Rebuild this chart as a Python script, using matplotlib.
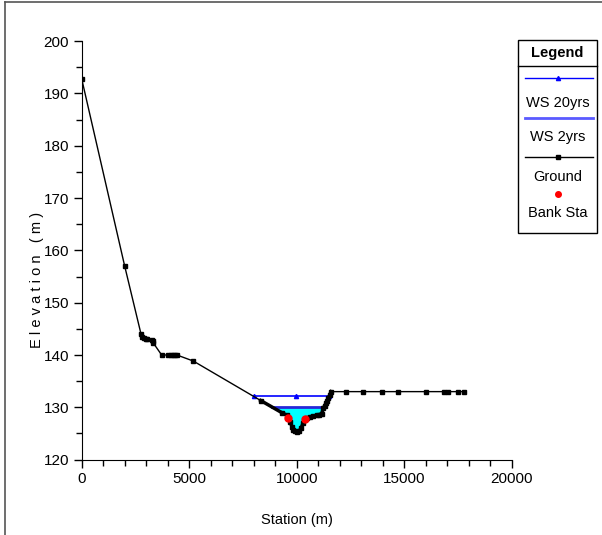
import numpy as np
import matplotlib

matplotlib.use("Agg")
import matplotlib.pyplot as plt
from matplotlib.lines import Line2D
from matplotlib.patches import Rectangle

plt.rcParams["font.family"] = ["Liberation Sans", "DejaVu Sans"]

# ---------------- Data ----------------

ground_x = [0, 2000, 2760, 2800, 2900, 2980, 3050, 3260, 3300, 3330, 3720,
            4030, 4150, 4250, 4350, 4430, 5190, 8325, 9300, 9535, 9610,
            9700, 9780, 9840, 9900, 10000, 10100, 10200, 10300, 10385, 10500,
            10620, 10750, 10930, 11050, 11160, 11240, 11300, 11360, 11420,
            11470, 11530, 11600, 12290, 13070, 13950, 14710, 16010, 16870,
            17050, 17490, 17780]
ground_y = [192.8, 157.0, 144.0, 143.5, 143.2, 143.1, 143.0, 142.9, 142.6,
            142.3, 140.0, 140.0, 140.0, 140.0, 140.0, 140.0, 138.85, 131.3,
            129.0, 128.5, 128.0, 127.2, 126.3, 125.7, 125.4, 125.3, 125.4,
            126.0, 127.0, 127.7, 128.0, 128.2, 128.3, 128.5, 128.6, 128.8,
            129.8, 130.3, 130.75, 131.2, 131.7, 132.3, 133.0, 133.0, 133.0,
            133.0, 133.0, 133.0, 133.0, 133.0, 133.0, 133.0]

ws20_x = [8000, 9970, 11500]
ws20_y = [132.2, 132.2, 132.2]

ws2_x = [8833, 11270]
ws2_level = 130.1

bank_x = [9610, 10385]
bank_y = [128.0, 127.7]

legend_labels = ["WS 20yrs", "WS 2yrs", "Ground", "Bank Sta"]

# ---------------- Figure ----------------

W, H = 602, 535


def fx(px):
    return px / W


def fy(py):
    return 1 - py / H


fig = plt.figure(figsize=(6.02, 5.35), dpi=100)
ax = fig.add_axes([0.1357, 0.1409, 0.7143, 0.7821])

gx = np.array(ground_x)
gy = np.array(ground_y)
chan = (gx >= 8000) & (gx <= 11600)
ax.fill_between(gx[chan], gy[chan], ws2_level, where=gy[chan] < ws2_level,
                interpolate=True, color="#00ffff", lw=0, zorder=1)
ax.plot(ws2_x, [ws2_level, ws2_level], color="#2828d8", lw=2.0, zorder=2)

ax.plot(ws20_x, ws20_y, color="#0000ff", lw=1.2, marker="^", ms=3,
        zorder=3)
ax.plot(ground_x, ground_y, color="black", lw=1.0, marker="s", ms=3.4,
        zorder=4)
# channel bed drawn heavier, as the dense stations merge into a thick line
ax.plot(gx[chan], gy[chan], color="black", lw=2.5, zorder=4)
ax.plot(bank_x, bank_y, ls="none", marker="o", color="red", ms=5, zorder=5)

ax.set_xlim(0, 20000)
ax.set_ylim(120, 200)
ax.set_xticks(np.arange(0, 20001, 5000))
ax.set_xticks(np.arange(0, 20001, 1000), minor=True)
ax.set_yticks(np.arange(120, 201, 10))
ax.set_yticks(np.arange(120, 201, 5), minor=True)
ax.tick_params(which="major", length=6, width=1, labelsize=11, pad=3)
ax.tick_params(which="minor", length=4, width=1)
for side in ("top", "right"):
    ax.spines[side].set_visible(False)

fig.text(fx(296.5), fy(520), "Station (m)", ha="center", va="center",
         fontsize=10.5)
fig.text(fx(37), fy(280), "E l e v a t i o n   ( m )", ha="center",
         va="center", rotation=90, fontsize=10.5)

# ---------------- Legend box (drawn in figure pixels) ----------------

fig.patches.append(Rectangle((fx(518), fy(233)), fx(597) - fx(518),
                             fy(40) - fy(233), transform=fig.transFigure,
                             fill=False, ec="black", lw=1.0))
fig.lines.append(Line2D([fx(518), fx(597)], [fy(66), fy(66)],
                        transform=fig.transFigure, color="black", lw=1.0))
fig.text(fx(557.5), fy(53), "Legend", ha="center", va="center",
         fontsize=10.5, fontweight="bold")

entry_line_y = [78, 118, 157, 194]
entry_text_y = [103, 137, 177, 213]
styles = [
    dict(color="#0000ff", lw=1.0, marker="^", ms=3),
    dict(color="#5a5aff", lw=2.0),
    dict(color="black", lw=1.0, marker="s", ms=3),
    dict(color="red", ls="none", marker="o", ms=4),
]
for ly, ty, lab, st in zip(entry_line_y, entry_text_y, legend_labels, styles):
    fig.lines.append(Line2D([fx(525), fx(557.5), fx(593)], [fy(ly)] * 3,
                            transform=fig.transFigure, markevery=[1], **st))
    fig.text(fx(557.5), fy(ty), lab, ha="center", va="center", fontsize=10.5)

# outer frame (left and top edges)
fig.lines.append(Line2D([fx(5), fx(5)], [0, fy(1.5)],
                        transform=fig.transFigure, color="#555555", lw=1.2))
fig.lines.append(Line2D([fx(5), 1], [fy(1.5), fy(1.5)],
                        transform=fig.transFigure, color="#555555", lw=1.2))

fig.savefig("out.png", dpi=100)
